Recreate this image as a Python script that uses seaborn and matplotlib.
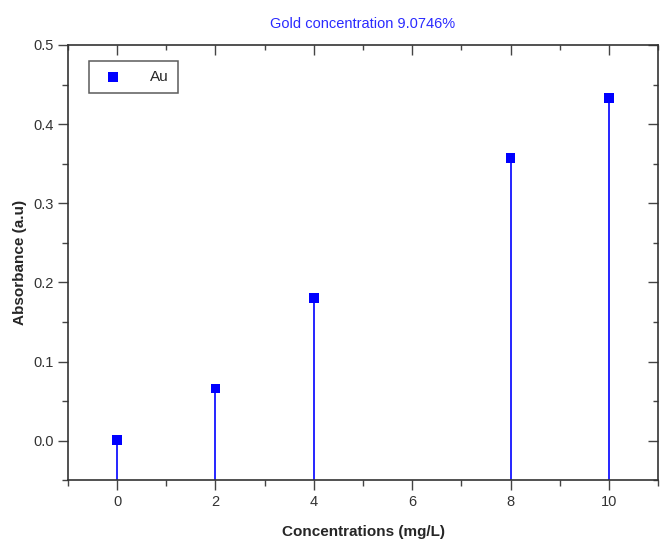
import numpy as np
import pandas as pd
import matplotlib
matplotlib.use('Agg')
import matplotlib.pyplot as plt
from matplotlib.ticker import MultipleLocator
import seaborn as sns

# valores
conc = [0, 2, 4, 8, 10]
absorb = [0.001, 0.066, 0.180, 0.357, 0.433]

base = pd.DataFrame({'conc': conc, 'abs': absorb})

sns.set_style('ticks')
plt.rcParams['font.family'] = ['Liberation Sans', 'DejaVu Sans']

fig = plt.figure(figsize=(6.6, 5.42), dpi=100)
ax = fig.add_axes([0.103, 0.114, 0.894, 0.803])

ax.vlines(base['conc'], -0.05, base['abs'], color='#0000ff', lw=1.2, zorder=2)
sns.scatterplot(data=base, x='conc', y='abs', marker='s', color='#0000ff',
                s=48, edgecolor='none', label='Au', ax=ax, zorder=3)

ax.set_xlim(-1, 11)
ax.set_ylim(-0.05, 0.5)
ax.xaxis.set_major_locator(MultipleLocator(2))
ax.xaxis.set_minor_locator(MultipleLocator(1))
ax.yaxis.set_major_locator(MultipleLocator(0.1))
ax.yaxis.set_minor_locator(MultipleLocator(0.05))
ax.yaxis.set_major_formatter(matplotlib.ticker.FormatStrFormatter('%.1f'))

for s in ax.spines.values():
    s.set_color('#333333')
    s.set_linewidth(1.2)
    s.set_visible(True)
ax.tick_params(which='major', direction='out', length=7, width=1.0, color='#444444',
               labelsize=10.5, labelcolor='#333333')
ax.tick_params(which='minor', direction='out', length=4, width=1.0, color='#444444')

# eixos de cima e da direita com ticks para dentro
top = ax.secondary_xaxis('top')
top.xaxis.set_major_locator(MultipleLocator(2))
top.xaxis.set_minor_locator(MultipleLocator(1))
top.tick_params(which='major', direction='in', length=7, width=1.0, color='#444444', labeltop=False)
top.tick_params(which='minor', direction='in', length=3.5, width=1.0, color='#444444')
top.spines['top'].set_visible(False)
right = ax.secondary_yaxis('right')
right.yaxis.set_major_locator(MultipleLocator(0.1))
right.yaxis.set_minor_locator(MultipleLocator(0.05))
right.tick_params(which='major', direction='in', length=7, width=1.0, color='#444444', labelright=False)
right.tick_params(which='minor', direction='in', length=3.5, width=1.0, color='#444444')
right.spines['right'].set_visible(False)

ax.set_title('Gold concentration 9.0746%', color='#2a2aff', fontsize=10.5, pad=12)
ax.set_xlabel('Concentrations (mg/L)', fontsize=11, fontweight='bold', labelpad=12)
ax.set_ylabel('Absorbance (a.u)', fontsize=11, fontweight='bold', labelpad=4)

leg = ax.legend(loc='upper left', bbox_to_anchor=(0.022, 0.981), frameon=True,
                fancybox=False, edgecolor='#333333', fontsize=11, borderpad=0.6,
                handletextpad=1.4, borderaxespad=0.5, markerscale=1.0)
leg.get_frame().set_linewidth(1.1)

plt.savefig('out.png', dpi=100)
